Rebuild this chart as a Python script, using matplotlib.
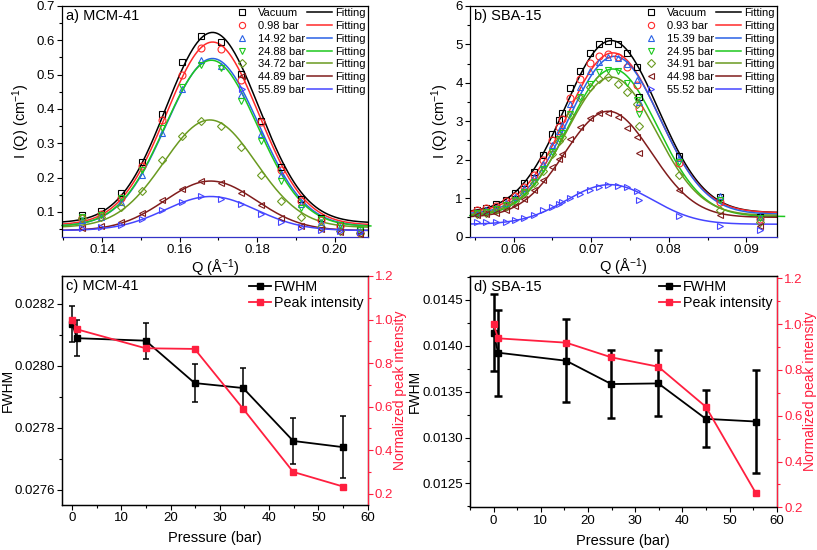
import numpy as np
import matplotlib
matplotlib.use("Agg")
import matplotlib.pyplot as plt
from matplotlib.lines import Line2D
from matplotlib.ticker import MultipleLocator

plt.rcParams['font.family'] = ['Liberation Sans', 'DejaVu Sans']
plt.rcParams['mathtext.default'] = 'regular'

# ---- panel a: MCM-41 scattering data ----
q_mcm = [0.1349, 0.1398, 0.1450, 0.1503, 0.1554, 0.1605, 0.1656, 0.1708,
         0.1759, 0.1810, 0.1862, 0.1913, 0.1964, 0.2013, 0.2064]
labels_mcm = ['Vacuum', '0.98 bar', '14.92 bar', '24.88 bar', '34.72 bar', '44.89 bar', '55.89 bar']
i_mcm = [
    [0.090, 0.104, 0.155, 0.246, 0.385, 0.536, 0.614, 0.596, 0.501, 0.364, 0.231, 0.139, 0.083, 0.061, 0.047],
    [0.082, 0.095, 0.142, 0.235, 0.368, 0.500, 0.577, 0.574, 0.485, 0.361, 0.223, 0.131, 0.076, 0.058, 0.039],
    [0.077, 0.085, 0.128, 0.209, 0.331, 0.458, 0.543, 0.526, 0.441, 0.327, 0.209, 0.124, 0.072, 0.055, 0.045],
    [0.085, 0.090, 0.140, 0.222, 0.345, 0.465, 0.527, 0.518, 0.423, 0.307, 0.190, 0.112, 0.078, 0.062, 0.048],
    [0.083, 0.086, 0.113, 0.162, 0.252, 0.322, 0.364, 0.350, 0.289, 0.207, 0.133, 0.085, 0.057, 0.045, 0.040],
    [0.052, 0.058, 0.071, 0.097, 0.134, 0.168, 0.189, 0.183, 0.156, 0.119, 0.083, 0.058, 0.049, 0.043, 0.036],
    [0.052, 0.055, 0.063, 0.078, 0.105, 0.129, 0.145, 0.139, 0.123, 0.095, 0.070, 0.055, 0.046, 0.044, 0.043],
]
# gaussian fit parameters (centre, baseline, height); widths are the FWHM of panel c
fit_c_mcm = [0.1685, 0.1685, 0.1685, 0.1682, 0.1678, 0.1680, 0.1680]
fit_y0_mcm = [0.068, 0.062, 0.058, 0.058, 0.055, 0.046, 0.046]
fit_h_mcm = [0.555, 0.533, 0.489, 0.484, 0.313, 0.144, 0.099]

# ---- panel b: SBA-15 scattering data ----
q_sba = [0.0553, 0.0565, 0.0578, 0.0590, 0.0602, 0.0614, 0.0626, 0.0638, 0.0649, 0.0658,
         0.0662, 0.0673, 0.0685, 0.0699, 0.0710, 0.0722, 0.0734, 0.0746, 0.0759, 0.0762,
         0.0813, 0.0866, 0.0918]
labels_sba = ['Vacuum', '0.93 bar', '15.39 bar', '24.95 bar', '34.91 bar', '44.98 bar', '55.52 bar']
i_sba = [
    [0.68, 0.75, 0.85, 0.95, 1.12, 1.38, 1.68, 2.12, 2.66, 3.02, 3.22, 3.86, 4.30, 4.78, 5.00, 5.08,
     5.00, 4.77, 4.40, 3.62, 2.10, 1.02, 0.52],
    [0.70, 0.75, 0.80, 0.92, 1.05, 1.30, 1.60, 2.00, 2.50, 2.85, 3.05, 3.60, 4.10, 4.52, 4.70, 4.76,
     4.68, 4.42, 3.95, 3.35, 1.92, 0.90, 0.45],
    [0.62, 0.68, 0.75, 0.88, 1.02, 1.25, 1.55, 1.90, 2.38, 2.75, 2.90, 3.45, 3.88, 4.30, 4.55, 4.68,
     4.65, 4.48, 4.08, 3.50, 2.05, 1.05, 0.50],
    [0.60, 0.65, 0.72, 0.82, 0.95, 1.15, 1.42, 1.75, 2.20, 2.55, 2.70, 3.20, 3.62, 3.98, 4.28, 4.33,
     4.30, 4.00, 3.55, 3.20, 1.95, 0.95, 0.48],
    [0.58, 0.62, 0.70, 0.80, 0.92, 1.12, 1.38, 1.70, 2.15, 2.48, 2.60, 3.15, 3.60, 3.90, 4.10, 4.15,
     3.97, 3.75, 3.45, 2.87, 1.60, 0.68, 0.38],
    [0.55, 0.58, 0.62, 0.70, 0.80, 0.97, 1.20, 1.47, 1.80, 2.02, 2.15, 2.55, 2.85, 3.08, 3.22, 3.22,
     3.12, 2.82, 2.60, 2.17, 1.20, 0.55, 0.28],
    [0.37, 0.37, 0.38, 0.38, 0.43, 0.48, 0.57, 0.68, 0.78, 0.85, 0.90, 1.00, 1.10, 1.22, 1.28, 1.33,
     1.32, 1.28, 1.18, 0.94, 0.53, 0.28, 0.17],
]
fit_c_sba = [0.0726, 0.0728, 0.0730, 0.0728, 0.0726, 0.0722, 0.0724]
fit_y0_sba = [0.62, 0.62, 0.58, 0.52, 0.55, 0.50, 0.32]
fit_h_sba = [4.48, 4.16, 4.11, 3.84, 3.60, 2.76, 1.03]

# ---- panel c: MCM-41 FWHM and peak intensity ----
p_mcm = [0, 0.98, 14.92, 24.88, 34.72, 44.89, 55.0]
fwhm_mcm = [0.028135, 0.028089, 0.028081, 0.027944, 0.027928, 0.027757, 0.027737]
fwhm_err_mcm = [0.000058, 0.000058, 0.000058, 0.000062, 0.000066, 0.000075, 0.000100]
peak_mcm = [1.0, 0.955, 0.868, 0.865, 0.59, 0.30, 0.233]

# ---- panel d: SBA-15 FWHM and peak intensity ----
p_sba = [0, 0.93, 15.39, 24.95, 34.91, 44.98, 55.52]
fwhm_sba = [0.014143, 0.013925, 0.013837, 0.013583, 0.013590, 0.013204, 0.013175]
fwhm_err_sba = [0.00042, 0.00047, 0.00045, 0.00037, 0.00036, 0.00031, 0.00056]
peak_sba = [1.0, 0.938, 0.919, 0.855, 0.814, 0.639, 0.264]

colors = ['black', '#ff2a2a', '#2a62e6', '#1ec81e', '#6a9a20', '#801c1c', '#4545ff']
markers = ['s', 'o', '^', 'v', 'D', '<', '>']
msizes = [4.5, 5, 5, 5, 4.2, 5, 5]
red = '#ff1f3f'
TICK_FS = 9.5
LABEL_FS = 10


def gauss(q, c, w, y0, h):
    return y0 + h * np.exp(-4 * np.log(2) * (q - c) ** 2 / w ** 2)


def style_axes(ax):
    ax.tick_params(which='both', direction='out', labelsize=TICK_FS, width=0.8, pad=1.8)
    ax.tick_params(which='major', length=3.5)
    ax.tick_params(which='minor', length=2)
    for s in ax.spines.values():
        s.set_linewidth(0.9)


def scattering_panel(ax, q, data, labels, fc, fw, fy0, fh, xlim, ylim, title, ext):
    handles_m, handles_l = [], []
    for k in range(len(data)):
        qq = np.linspace(xlim[0], xlim[1] + (ext if k == 3 else 0), 300)
        ax.plot(qq, gauss(qq, fc[k], fw[k], fy0[k], fh[k]), color=colors[k], lw=1.1,
                clip_on=(k != 3), zorder=2)
        ax.plot(q, data[k], ls='none', marker=markers[k], ms=msizes[k], mfc='none',
                mec=colors[k], mew=0.8, zorder=3)
        handles_m.append(Line2D([], [], ls='none', marker=markers[k], ms=msizes[k] - 0.5,
                                mfc='none', mec=colors[k], mew=0.8))
        handles_l.append(Line2D([], [], color=colors[k], lw=1.1))
    ax.set_xlim(*xlim)
    ax.set_ylim(*ylim)
    ax.spines['bottom'].set_color('#3434c8')
    style_axes(ax)
    ax.text(0.012, 0.985, title, transform=ax.transAxes, va='top', ha='left', fontsize=10.5)
    ax.set_xlabel('Q (Å$^{-1}$)', fontsize=10.5, labelpad=1)
    ax.set_ylabel('I (Q) (cm$^{-1}$)', fontsize=10.5, labelpad=3)
    ax.legend(handles_m + handles_l, labels + ['Fitting'] * len(labels), ncol=2,
              loc='upper right', frameon=False, fontsize=8, handlelength=2.2,
              handletextpad=0.3, columnspacing=0.2, labelspacing=0.25,
              borderaxespad=0.05, borderpad=0.15)


def fwhm_panel(ax, p, fwhm, err, peak, xlim, ylim, ylim2, title, ymaj, elw, cap):
    ax.errorbar(p, fwhm, yerr=err, color='black', marker='s', ms=5, lw=1.3,
                elinewidth=elw, capsize=cap, capthick=elw)
    ax.set_xlim(*xlim)
    ax.set_ylim(*ylim)
    ax.xaxis.set_major_locator(MultipleLocator(10))
    ax.xaxis.set_minor_locator(MultipleLocator(5))
    ax.yaxis.set_major_locator(MultipleLocator(ymaj))
    ax.yaxis.set_minor_locator(MultipleLocator(ymaj / 2))
    ax.set_xlabel('Pressure (bar)', fontsize=10.5, labelpad=5)
    ax.set_ylabel('FWHM', fontsize=LABEL_FS, labelpad=0)
    ax.text(0.012, 0.985, title, transform=ax.transAxes, va='top', ha='left', fontsize=10.5)
    style_axes(ax)
    ax2 = ax.twinx()
    ax2.plot(p, peak, color=red, marker='s', ms=5, lw=1.3)
    ax2.set_ylim(*ylim2)
    ax2.yaxis.set_major_locator(MultipleLocator(0.2))
    ax2.yaxis.set_minor_locator(MultipleLocator(0.1))
    style_axes(ax2)
    ax2.spines['right'].set_color(red)
    ax2.tick_params(axis='y', which='both', colors=red)
    ax2.set_ylabel('Normalized peak intensity', fontsize=LABEL_FS, color=red, labelpad=0)
    h = [Line2D([], [], color='black', marker='s', ms=5, lw=1.3),
         Line2D([], [], color=red, marker='s', ms=5, lw=1.3)]
    ax2.legend(h, ['FWHM', 'Peak intensity'], loc='upper right', frameon=False, fontsize=10.3,
               handlelength=1.5, handletextpad=0.2, labelspacing=0.1, borderaxespad=0.15,
               borderpad=0.15)


fig = plt.figure(figsize=(8.17, 5.5), dpi=100)
ax_a = fig.add_axes([0.0759, 0.5691, 0.3742, 0.4200])
ax_b = fig.add_axes([0.5753, 0.5700, 0.3754, 0.4191])
ax_c = fig.add_axes([0.0763, 0.0818, 0.3736, 0.4164])
ax_d = fig.add_axes([0.5753, 0.0776, 0.3754, 0.4205])

scattering_panel(ax_a, q_mcm, i_mcm, labels_mcm, fit_c_mcm, fwhm_mcm, fit_y0_mcm, fit_h_mcm,
                 (0.1297, 0.2085), (0.027, 0.7), 'a) MCM-41', 0.0008)
ax_a.xaxis.set_major_locator(MultipleLocator(0.02))
ax_a.xaxis.set_minor_locator(MultipleLocator(0.01))
ax_a.yaxis.set_major_locator(MultipleLocator(0.1))
ax_a.yaxis.set_minor_locator(MultipleLocator(0.05))

scattering_panel(ax_b, q_sba, i_sba, labels_sba, fit_c_sba, fwhm_sba, fit_y0_sba, fit_h_sba,
                 (0.0544, 0.0939), (0, 6), 'b) SBA-15', 0.001)
ax_b.xaxis.set_major_locator(MultipleLocator(0.01))
ax_b.xaxis.set_minor_locator(MultipleLocator(0.005))
ax_b.yaxis.set_major_locator(MultipleLocator(1))
ax_b.yaxis.set_minor_locator(MultipleLocator(0.5))

fwhm_panel(ax_c, p_mcm, fwhm_mcm, fwhm_err_mcm, peak_mcm, (-2, 60), (0.02755, 0.02829),
           (0.148, 1.2), 'c) MCM-41', 0.0002, 1.1, 2.5)
fwhm_panel(ax_d, p_sba, fwhm_sba, fwhm_err_sba, peak_sba, (-5, 60), (0.01224, 0.01476),
           (0.2, 1.21), 'd) SBA-15', 0.0005, 1.8, 2.8)

fig.savefig('out.png', dpi=100)
